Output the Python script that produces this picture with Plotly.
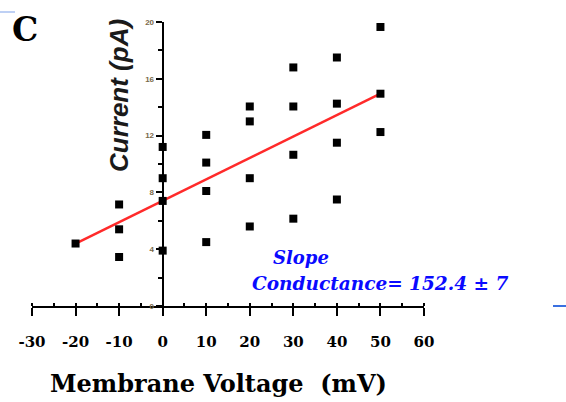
import plotly.graph_objects as go

# ---- data ----
voltage = [-20, -10, -10, -10, 0, 0, 0, 0, 10, 10, 10, 10,
           20, 20, 20, 20, 30, 30, 30, 30, 40, 40, 40, 40, 50, 50, 50]
current = [4.4, 7.15, 5.4, 3.45, 11.2, 9.0, 7.4, 3.9, 12.05, 10.1, 8.1, 4.5,
           14.05, 13.0, 9.0, 5.6, 16.8, 14.05, 10.65, 6.15, 17.5, 14.25, 11.5, 7.5,
           19.65, 14.95, 12.25]
fit_x = [-20, 50]
fit_y = [4.4, 14.95]
x_ticks = [-30, -20, -10, 0, 10, 20, 30, 40, 50, 60]
x_ticktext = ["-30", "-20", "-10", "0", "10", "20", "30", "40", "50", "60"]
y_ticks = [0, 4, 8, 12, 16, 20]

W, H = 566, 402
L, R, T, B = 32, 142, 22, 96
PW, PH = W - L - R, H - T - B


def px(x):
    return (x - L) / PW


def py(y):
    return (H - B - y) / PH


fig = go.Figure()
fig.add_trace(go.Scatter(x=fit_x, y=fit_y, mode="lines",
                         line=dict(color="#ff2a2a", width=2.5),
                         showlegend=False, hoverinfo="skip"))
fig.add_trace(go.Scatter(x=voltage, y=current, mode="markers",
                         marker=dict(symbol="square", size=8, color="black"),
                         showlegend=False))

fig.update_layout(
    width=W, height=H,
    margin=dict(l=L, r=R, t=T, b=B, autoexpand=False),
    plot_bgcolor="white", paper_bgcolor="white",
    xaxis=dict(
        range=[-30, 60], tickvals=x_ticks, ticktext=x_ticktext,
        automargin=False,
        showgrid=False, zeroline=False, showline=True,
        linecolor="black", linewidth=2,
        ticks="outside", ticklen=8, tickwidth=2, tickcolor="black",
        ticklabelstandoff=13,
        tickfont=dict(family="DejaVu Serif", size=15, color="black", weight="bold"),
        minor=dict(dtick=5, ticks="inside", ticklen=3, tickwidth=2, tickcolor="black"),
    ),
    yaxis=dict(
        range=[0, 20], tickvals=y_ticks, anchor="free", position=1/3,
        automargin=False,
        showgrid=False, zeroline=False, showline=True,
        linecolor="black", linewidth=2,
        ticks="outside", ticklen=6, tickwidth=2, tickcolor="black",
        tickfont=dict(family="Arial", size=8, color="#7a6a4a", weight="bold"),
        minor=dict(dtick=2, ticks="outside", ticklen=4, tickwidth=1.5, tickcolor="black"),
    ),
    annotations=[
        dict(text="C", x=px(10), y=py(30), xref="paper", yref="paper",
             xanchor="left", yanchor="middle", showarrow=False,
             font=dict(family="DejaVu Serif", size=33, color="black", weight="bold")),
        dict(text="<b><i>Current (pA)</i></b>", x=px(119), y=py(96), xref="paper", yref="paper",
             textangle=-90, xanchor="center", yanchor="middle", showarrow=False,
             font=dict(family="Liberation Sans", size=26, color="#1a1a1a")),
        dict(text="<b><i>Slope</i></b>", x=px(271), y=py(257), xref="paper", yref="paper",
             xanchor="left", yanchor="middle", showarrow=False,
             font=dict(family="DejaVu Serif", size=18, color="#0a0aff")),
        dict(text="<b><i>Conductance= 152.4 ± 7</i></b>", x=px(250), y=py(283), xref="paper", yref="paper",
             xanchor="left", yanchor="middle", showarrow=False,
             font=dict(family="DejaVu Serif", size=18.5, color="#0a0aff")),
        dict(text="<b>Membrane Voltage  (mV)</b>", x=px(218), y=py(383), xref="paper", yref="paper",
             xanchor="center", yanchor="middle", showarrow=False,
             font=dict(family="DejaVu Serif", size=24, color="black")),
    ],
    shapes=[
        dict(type="line", xref="paper", yref="paper", x0=px(0), x1=px(15), y0=py(12), y1=py(12),
             line=dict(color="#a8c0f0", width=1.5)),
        dict(type="line", xref="paper", yref="paper", x0=px(553), x1=px(566), y0=py(306), y1=py(306),
             line=dict(color="#3a70e0", width=2)),
    ],
)

fig.write_html(
    "out.html",
    config={"displayModeBar": False},
    post_script="document.body.style.margin='0';document.body.style.overflow='hidden';",
)
